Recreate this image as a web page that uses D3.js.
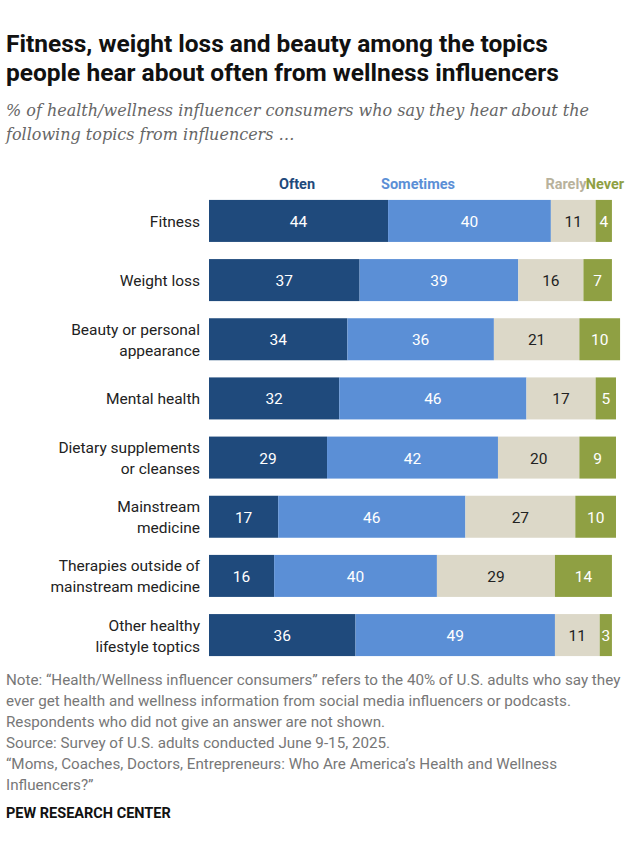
<!DOCTYPE html>
<html>
<head>
<meta charset="utf-8"><script src="https://d3js.org/d3.v7.min.js"></script>
<style>body{margin:0;background:#fff}</style>
</head>
<body>
<svg id="chart" width="639" height="857"></svg>
<script>
const topics = [["Fitness"],["Weight loss"],["Beauty or personal","appearance"],["Mental health"],
  ["Dietary supplements","or cleanses"],["Mainstream","medicine"],["Therapies outside of","mainstream medicine"],
  ["Other healthy","lifestyle toptics"]]
const often = [44,37,34,32,29,17,16,36]
const sometimes = [40,39,36,46,42,46,40,49]
const rarely = [11,16,21,17,20,27,29,11]
const never = [4,7,10,5,9,10,14,3]
const seriesNames = ["Often","Sometimes","Rarely","Never"]
const legendPos = [297,418,566,605]
const colors = ["#1f4a7c","#5b8fd6","#dcd8c8","#8fa043"]
const labelColors = ["#1f4a7c","#5b8fd6","#b8b29c","#8fa043"]
const textColors = ["#fff","#fff","#222","#fff"]

const svg = d3.select("#chart")
const font = "Roboto, 'Noto Sans', sans-serif"

svg.append("text").attr("x",6).attr("y",52).attr("font-family",font).attr("font-weight","bold")
  .attr("font-size",24.5).attr("fill","#111").text("Fitness, weight loss and beauty among the topics")
svg.append("text").attr("x",6).attr("y",81).attr("font-family",font).attr("font-weight","bold")
  .attr("font-size",24.5).attr("fill","#111").text("people hear about often from wellness influencers")
const sub = ["% of health/wellness influencer consumers who say they hear about the","following topics from influencers …"]
sub.forEach((s,i)=>svg.append("text").attr("x",6).attr("y",116+i*24).attr("font-family","'DejaVu Serif', serif")
  .attr("font-style","italic").attr("font-size",16).attr("fill","#666").text(s))

const x = d3.scaleLinear().domain([0,100]).range([209,616])
const y = d3.scaleBand().domain(d3.range(topics.length)).range([194,662]).paddingInner(0.29).paddingOuter(0.1)

const data = topics.map((t,i)=>({i, vals:[often[i],sometimes[i],rarely[i],never[i]]}))
const g = svg.append("g")
data.forEach(d=>{
  let acc = 0
  d.vals.forEach((v,k)=>{
    const x0 = acc; acc += v
    g.append("rect").attr("x",x(x0)).attr("width",x(acc)-x(x0)).attr("y",y(d.i)).attr("height",y.bandwidth())
      .attr("fill",colors[k])
    g.append("text").attr("x",(x(x0)+x(acc))/2).attr("y",y(d.i)+y.bandwidth()/2+6).attr("text-anchor","middle")
      .attr("font-family",font).attr("font-size",15.5).attr("fill",textColors[k]).text(v)
  })
  const lines = topics[d.i]
  lines.forEach((l,j)=>svg.append("text").attr("x",200).attr("text-anchor","end")
    .attr("y",y(d.i)+y.bandwidth()/2+6+(j-(lines.length-1)/2)*21)
    .attr("font-family",font).attr("font-size",15.5).attr("fill","#222").text(l))
})

seriesNames.forEach((n,k)=>{
  svg.append("text").attr("x",legendPos[k]).attr("y",189).attr("text-anchor","middle").attr("font-family",font)
    .attr("font-weight","bold").attr("font-size",14.5).attr("fill",labelColors[k]).text(n)
})

const notes = ["Note: “Health/Wellness influencer consumers” refers to the 40% of U.S. adults who say they",
 "ever get health and wellness information from social media influencers or podcasts.",
 "Respondents who did not give an answer are not shown.",
 "Source: Survey of U.S. adults conducted June 9-15, 2025.",
 "“Moms, Coaches, Doctors, Entrepreneurs: Who Are America’s Health and Wellness",
 "Influencers?”"]
notes.forEach((s,i)=>svg.append("text").attr("x",6).attr("y",685+i*21).attr("font-family",font)
  .attr("font-size",15.2).attr("fill","#777").text(s))
svg.append("text").attr("x",6).attr("y",818).attr("font-family",font).attr("font-weight","bold")
  .attr("font-size",14.5).attr("fill","#111").text("PEW RESEARCH CENTER")
</script>
</body>
</html>
